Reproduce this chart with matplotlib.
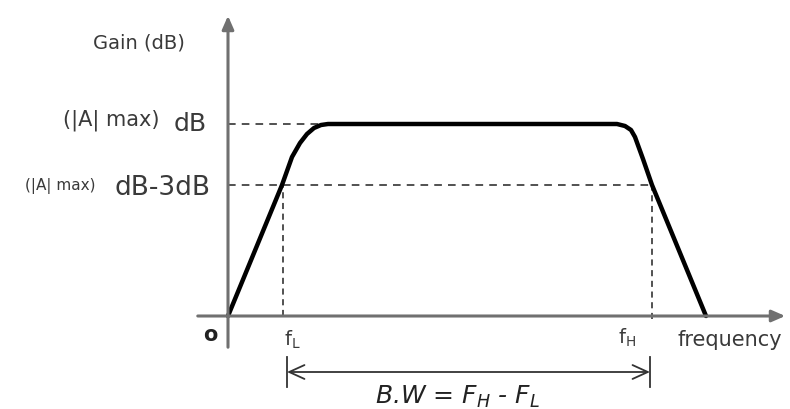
import matplotlib.pyplot as plt

# key points of the band-pass gain curve (frequency, gain), origin at the axes corner
freq = [0, 54, 64, 72, 79, 86, 93, 100, 389, 397, 403, 407, 415, 424, 478]
gain = [0, 131, 159, 173, 182, 188, 191, 192, 192, 190, 186, 179, 157, 131, 0]

gain_max = 192      # (|A| max) dB
gain_3db = 131      # (|A| max) dB - 3dB
f_low = 55
f_high = 424

plt.rcParams['font.family'] = ['DejaVu Sans']
txt = '#3a3a3a'
axc = '#707070'

fig = plt.figure(figsize=[7.9, 4.09], dpi=100)
ax = fig.add_axes([0, 0, 1, 1])
ax.set_xlim(-228, 562)
ax.set_ylim(-93, 316)
ax.axis('off')

# axes with arrow heads
ax.annotate('', xy=(0, 303), xytext=(0, -34),
            arrowprops=dict(arrowstyle='-|>,head_length=0.8,head_width=0.35',
                            color=axc, lw=2.2))
ax.annotate('', xy=(560, 0), xytext=(-33, 0),
            arrowprops=dict(arrowstyle='-|>,head_length=0.8,head_width=0.35',
                            color=axc, lw=2.2))

# dashed guide lines
ax.plot([0, 100], [gain_max, gain_max], '--', color='#222222', lw=1.1, dashes=(5, 4))
ax.plot([0, f_high], [gain_3db, gain_3db], '--', color='#222222', lw=1.1, dashes=(5, 4))
ax.plot([f_low, f_low], [0, gain_3db], '--', color='#222222', lw=1.1, dashes=(4, 3))
ax.plot([f_high, f_high], [-3, gain_3db], '--', color='#222222', lw=1.1, dashes=(4, 3))

# the gain curve
ax.plot(freq, gain, color='black', lw=3.2, solid_joinstyle='round',
        solid_capstyle='round')

# bandwidth arrow
bw_y = -56
bw_left = 59
bw_right = 422
ax.annotate('', xy=(bw_left, bw_y), xytext=(bw_right, bw_y),
            arrowprops=dict(arrowstyle='<->,head_length=1.1,head_width=0.5',
                            color='#333333', lw=1.3, shrinkA=0, shrinkB=0))
ax.plot([bw_left, bw_left], [bw_y - 15, bw_y + 15], color='#333333', lw=1.3)
ax.plot([bw_right, bw_right], [bw_y - 15, bw_y + 15], color='#333333', lw=1.3)

# labels
ax.text(-89, 273, 'Gain (dB)', fontsize=14, color=txt, ha='center', va='center')
ax.text(-117, 196, '(|A| max)', fontsize=15, color=txt, ha='center', va='center')
ax.text(-38, 192, 'dB', fontsize=18, color=txt, ha='center', va='center')
ax.text(-168, 130, '(|A| max)', fontsize=11, color=txt, ha='center', va='center')
ax.text(-66, 128, 'dB-3dB', fontsize=19, color=txt, ha='center', va='center')
ax.text(-18, -19, 'o', fontsize=15, color='#222222', ha='center', va='center',
        fontweight='bold')
ax.text(64, -24, r'f$_{\rm L}$', fontsize=14, color=txt, ha='center', va='center')
ax.text(399, -22, r'f$_{\rm H}$', fontsize=14, color=txt, ha='center', va='center')
ax.text(502, -24, 'frequency', fontsize=15, color=txt, ha='center', va='center')
ax.text(229, -81, 'B.W = $F_H$ - $F_L$', fontsize=18, color='#222222',
        ha='center', va='center', style='italic')

plt.savefig('out.png', dpi=100)
